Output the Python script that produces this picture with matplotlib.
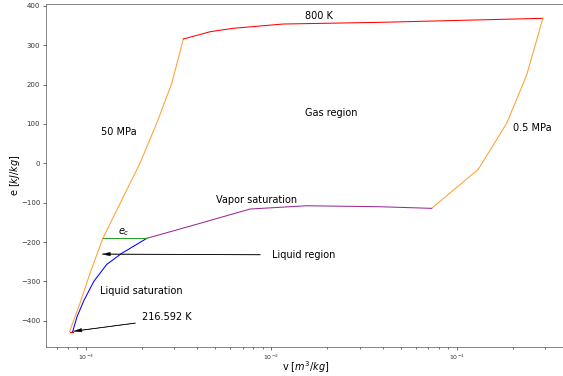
import matplotlib
matplotlib.use('Agg')
import matplotlib.pyplot as plt

# 50 MPa isobar
v_50 = [8.18e-4, 9.31e-4, 1.055e-3, 1.235e-3, 1.563e-3, 1.962e-3, 2.414e-3, 2.908e-3, 3.357e-3]
e_50 = [-427.4, -355.0, -278.8, -190.6, -93.3, 0.8, 102.4, 203.3, 315.9]

# 800 K isotherm
v_800 = [3.357e-3, 4.68e-3, 6.22e-3, 0.01158, 0.03859, 0.2914]
e_800 = [315.9, 334.4, 343.1, 354.0, 358.3, 368.5]

# 0.5 MPa isobar
v_05 = [0.2914, 0.2384, 0.1860, 0.1307, 0.0733]
e_05 = [368.5, 224.4, 101.7, -15.2, -114.4]

# vapor saturation
v_vap = [0.0733, 0.03859, 0.01553, 7.69e-3, 4.13e-3, 2.132e-3]
e_vap = [-114.4, -110.3, -107.8, -116.1, -152.5, -190.6]

# liquid saturation
v_liq = [2.132e-3, 1.563e-3, 1.298e-3, 1.108e-3, 9.79e-4, 8.97e-4, 8.49e-4]
e_liq = [-190.6, -228.7, -256.7, -299.1, -347.4, -389.8, -428.0]

# critical energy line
v_c = [1.235e-3, 2.132e-3]
e_c = [-190.6, -190.6]

# triple point
v_tp = [8.18e-4, 8.49e-4]
e_tp = [-428.0, -428.0]

fig = plt.figure(figsize=(5.63, 3.76), dpi=100)
ax = fig.add_axes([0.0812, 0.0779, 0.9254, 0.9122])

lw = 0.75
ax.plot(v_50, e_50, color='#ffa033', lw=lw)
ax.plot(v_800, e_800, color='red', lw=lw)
ax.plot(v_05, e_05, color='#ffa033', lw=lw)
ax.plot(v_vap, e_vap, color='#9a2a9a', lw=lw)
ax.plot(v_liq, e_liq, color='blue', lw=lw)
ax.plot(v_c, e_c, color='#2ca02c', lw=lw)
ax.plot(v_tp, e_tp, color='red', lw=lw)

ax.set_xscale('log')
ax.set_xlim(6.08e-4, 0.392)
ax.set_ylim(-466, 405.6)

fs = 7
ax.text(0.01815, 374.3, '800 K', fontsize=fs, ha='center', va='center')
ax.text(0.02099, 129.1, 'Gas region', fontsize=fs, ha='center', va='center')
ax.text(1.499e-3, 79.0, '50 MPa', fontsize=fs, ha='center', va='center')
ax.text(0.2563, 88.9, '0.5 MPa', fontsize=fs, ha='center', va='center')
ax.text(8.37e-3, -93.3, 'Vapor saturation', fontsize=fs, ha='center', va='center')
ax.text(1.986e-3, -323.3, 'Liquid saturation', fontsize=fs, ha='center', va='center')
ax.text(1.594e-3, -175.9, '$e_c$', fontsize=fs, ha='center', va='center')

arrow = dict(facecolor='black', shrink=0.05, width=0.3, headwidth=2.5, headlength=6, lw=0.3)
ax.annotate('Liquid region', xy=(1.095e-3, -230.5), xytext=(0.0101, -232.5),
            fontsize=fs, va='center', ha='left', arrowprops=arrow)
ax.annotate('216.592 K', xy=(8.2e-4, -428.0), xytext=(2.004e-3, -391.1),
            fontsize=fs, va='center', ha='left', arrowprops=arrow)

ax.set_xlabel('v $[m^3/kg]$', fontsize=7)
ax.set_ylabel('e $[kJ/kg]$', fontsize=7)
ax.xaxis.set_label_coords(0.5, -0.037)
ax.yaxis.set_label_coords(-0.045, 0.5)
ax.tick_params(labelsize=5, width=0.5, length=2.5, pad=1.5, colors='#333333')
ax.tick_params(axis='x', labelsize=4.5)
ax.tick_params(which='minor', width=0.4, length=1.5)
for s in ax.spines.values():
    s.set_linewidth(0.5)
    s.set_color('#555555')

fig.savefig('out.png', dpi=100)
